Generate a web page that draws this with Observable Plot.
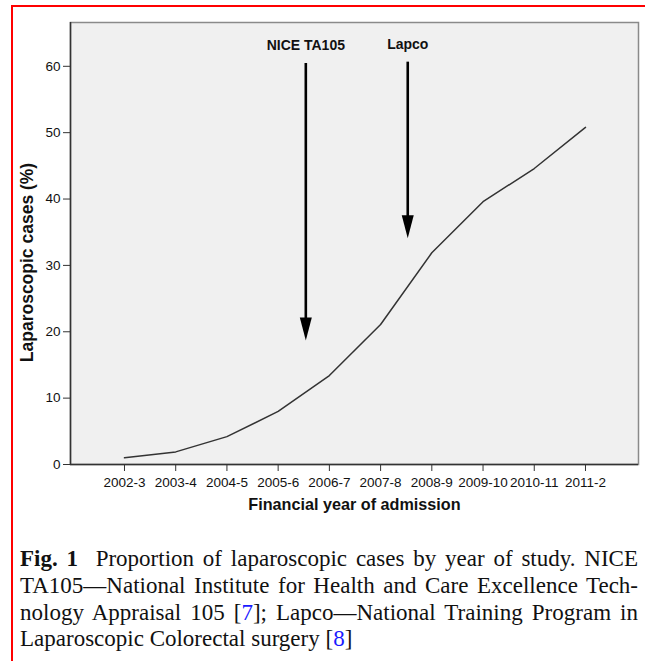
<!DOCTYPE html>
<html>
<head>
<meta charset="utf-8">
<script src="https://cdn.jsdelivr.net/npm/d3@7"></script>
<script src="https://cdn.jsdelivr.net/npm/@observablehq/plot@0.6"></script>
<style>
  html, body { margin: 0; padding: 0; background: #fff; width: 645px; height: 661px; overflow: hidden; }
  #border { position: absolute; left: 11px; top: 5px; width: 700px; height: 700px; border-left: 2px solid #ff0000; border-top: 2px solid #ff0000; box-sizing: border-box; }
  #chart { position: absolute; left: 0; top: 0; }
  #caption { position: absolute; left: 20px; top: 546px; width: 618px; font-family: "Liberation Serif", "Times New Roman", serif; font-size: 23px; line-height: 26.8px; color: #111; }
  #caption .l { text-align: justify; text-align-last: justify; white-space: nowrap; }
  #caption .last { text-align: left; }
  #caption a { color: #1a1aff; text-decoration: none; }
</style>
</head>
<body>
<div id="border"></div>
<div id="chart"></div>
<div id="caption">
  <div class="l"><b>Fig. 1</b>&nbsp; Proportion of laparoscopic cases by year of study. NICE</div>
  <div class="l">TA105—National Institute for Health and Care Excellence Tech-</div>
  <div class="l">nology Appraisal 105 [<a>7</a>]; Lapco—National Training Program in</div>
  <div class="last">Laparoscopic Colorectal surgery [<a>8</a>]</div>
</div>
<script>
// Data
const years = ["2002-3", "2003-4", "2004-5", "2005-6", "2006-7", "2007-8", "2008-9", "2009-10", "2010-11", "2011-2"];
const percent = [1.0, 1.9, 4.2, 8.0, 13.4, 21.1, 31.9, 39.6, 44.6, 50.8];
const yTicks = [0, 10, 20, 30, 40, 50, 60];
const arrowLabels = ["NICE TA105", "Lapco"];
const arrowX = [3.54, 5.53];      // position between financial years (index units)
const arrowTop = [60.5, 60.7];    // % level where arrow starts
const arrowTip = [18.7, 34.1];    // % level of arrow tip

const series = years.map((y, i) => ({i, year: y, value: percent[i]}));
const arrows = arrowLabels.map((l, k) => ({label: l, x: arrowX[k], top: arrowTop[k], tip: arrowTip[k]}));

const W = 645, H = 530, mt = 22, mb = 66, ml = 70, mr = 7;
const yMax = 66.6;
const pxPerUnit = (H - mt - mb) / yMax;
const headLen = 23, headW = 12;

const head = {
  draw(context) {
    context.moveTo(0, 0);
    context.lineTo(-headW / 2, -headLen);
    context.lineTo(headW / 2, -headLen);
    context.closePath();
  }
};

const chart = Plot.plot({
  width: W,
  height: H,
  marginTop: mt,
  marginBottom: mb,
  marginLeft: ml,
  marginRight: mr,
  style: {fontFamily: "'Liberation Sans', Arial, sans-serif", fontSize: "13px", background: "transparent", color: "#111"},
  x: {type: "linear", domain: [-1.054, 10.035]},
  y: {domain: [0, yMax]},
  marks: [
    Plot.frame({fill: "#f0f0f0", stroke: "#8a8a8a", strokeWidth: 1.5}),
    Plot.ruleY([0], {stroke: "#333", strokeWidth: 1.5}),
    Plot.ruleX([-1.054], {stroke: "#333", strokeWidth: 1.5}),
    Plot.axisY({ticks: yTicks, tickSize: 7, tickPadding: 3, fontSize: 13.5, label: null, stroke: "#333"}),
    Plot.axisX({ticks: d3.range(years.length), tickFormat: i => years[i], tickSize: 7, tickPadding: 6, fontSize: 13.5, label: null, stroke: "#333"}),
    Plot.text(["Laparoscopic cases (%)"], {frameAnchor: "left", textAnchor: "middle", lineAnchor: "middle", dx: -43, dy: 19, rotate: -90, fontSize: 17.5, fontWeight: "bold", fill: "#111"}),
    Plot.text(["Financial year of admission"], {frameAnchor: "bottom", lineAnchor: "middle", dy: 40, fontSize: 16.2, fontWeight: "bold", fill: "#111"}),
    Plot.line(series, {x: "i", y: "value", stroke: "#333", strokeWidth: 1.5}),
    Plot.link(arrows, {x1: "x", x2: "x", y1: "top", y2: d => d.tip + (headLen / 2) / pxPerUnit, stroke: "#000", strokeWidth: 2.6}),
    Plot.dot(arrows, {x: "x", y: "tip", symbol: head, fill: "#000", stroke: "none"}),
    Plot.text(arrows, {x: "x", y: "top", text: "label", dy: -17, fontSize: 14, fontWeight: "bold", fill: "#111"})
  ]
});
document.getElementById("chart").appendChild(chart);
</script>
</body>
</html>
